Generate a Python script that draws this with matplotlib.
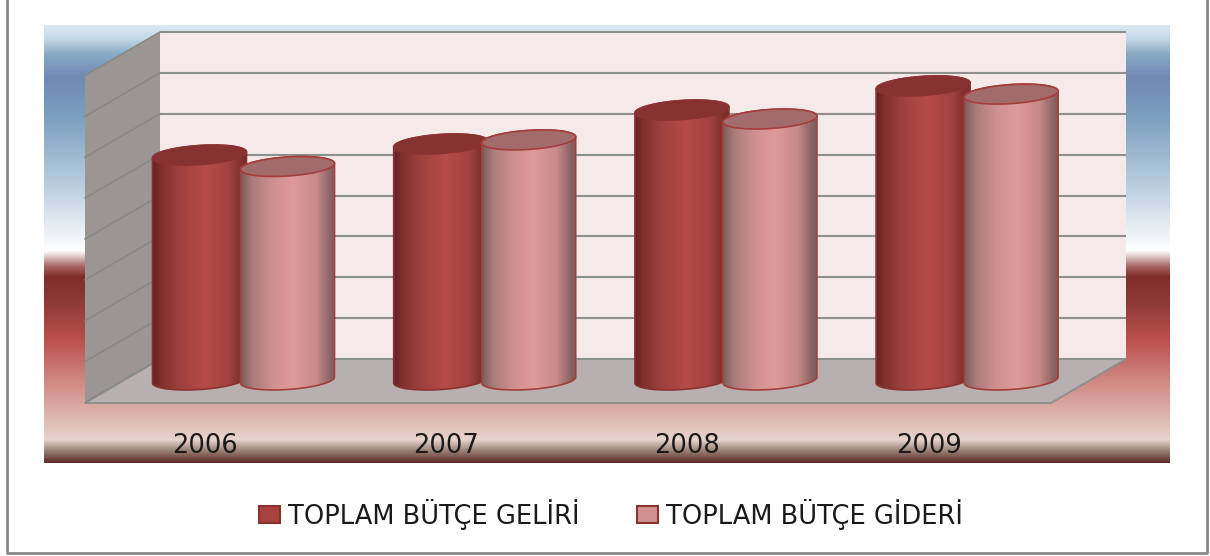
import numpy as np
import matplotlib
matplotlib.use('Agg')
import matplotlib.pyplot as plt
from matplotlib.colors import LinearSegmentedColormap, to_rgb
from matplotlib.patches import Patch, Polygon

plt.rcParams['font.family'] = ['DejaVu Sans']

# Values (the value axis has no labels, one grid step = 1)
years = ['2006', '2007', '2008', '2009']
gelir = [5.50, 5.77, 6.60, 7.19]
gider = [5.22, 5.87, 6.38, 6.99]
series_names = ['TOPLAM BÜTÇE GELİRİ', 'TOPLAM BÜTÇE GİDERİ']

W, H = 1210, 556
unit_x = 241.2   # pixels per category
unit_y = 40.9    # pixels per value step
first_x = 243.5  # pixel position of the first category
base_y = 380     # pixel position of value 0 on the cylinders


def ramp(stops):
    # stops are (position, colour), turned into a colormap
    return LinearSegmentedColormap.from_list('r', [(p, to_rgb(c)) for p, c in stops], N=512)


back_cmap = ramp([(0.0, '#dce9f3'), (0.03, '#c5d8e6'), (0.065, '#88aac5'), (0.12, '#7089b5'),
                  (0.21, '#7ba0bf'), (0.37, '#bccfdf'), (0.46, '#e6edf3'), (0.515, '#ffffff'),
                  (0.525, '#e8d8d8'), (0.55, '#a86a68'), (0.575, '#7f2c2a'), (0.635, '#8f3a36'),
                  (0.72, '#bb514d'), (0.825, '#d38f8a'), (0.925, '#e3c7bf'), (0.948, '#e6d4cd'),
                  (0.97, '#a08a80'), (1.0, '#5f2a25')])
red_cmap = ramp([(0.0, '#662321'), (0.08, '#7f2f2c'), (0.25, '#9b3f3b'), (0.55, '#b54c48'),
                 (0.8, '#a24240'), (0.94, '#7d2f2c'), (1.0, '#752b29')])
pink_cmap = ramp([(0.0, '#7c5a5a'), (0.12, '#ab7c7c'), (0.35, '#cf9291'), (0.55, '#df9a9b'),
                  (0.8, '#c68a89'), (0.94, '#8c6464'), (1.0, '#7c5a5a')])

fig = plt.figure(figsize=(W / 100, H / 100), dpi=100, facecolor='white')

# Backdrop axes: plain pixel coordinates for the frame, gradient and 3D walls
bg = fig.add_axes([0, 0, 1, 1])
bg.set_xlim(0, W)
bg.set_ylim(H, 0)
bg.axis('off')

bg.imshow(np.linspace(0, 1, 512).reshape(-1, 1), cmap=back_cmap, aspect='auto',
          extent=[44, 1170, 463, 25], zorder=0)
bg.set_xlim(0, W)
bg.set_ylim(H, 0)

bg.add_patch(Polygon([(160, 32), (1126, 32), (1126, 359), (160, 359)], fc='#f5e9e9', ec='none', zorder=1))
bg.add_patch(Polygon([(85, 75), (160, 32), (160, 359), (85, 403)], fc='#9b9593', ec='none', zorder=1))
bg.add_patch(Polygon([(85, 403), (160, 359), (1126, 359), (1051, 403)], fc='#b8b0b0', ec='#8e908c', lw=1.4, zorder=1))

for gy in np.linspace(32, 359, 9):
    bg.plot([160, 1126], [gy, gy], color='#8e908c', lw=1.5, zorder=2, solid_capstyle='butt')
    bg.plot([85, 160], [gy + 43.5, gy], color='#858a84', lw=1.1, zorder=2)

# Frame of the chart, open at the top of the crop
bg.plot([7, 7, 1207, 1207], [0, 552.5, 552.5, 0], color='#8a8a8a', lw=2, zorder=2)

# Data axes: x in categories, y in value steps
ax = fig.add_axes([0, 0, 1, 1], facecolor='none')
ax.axis('off')
xlim = (-first_x / unit_x, (W - first_x) / unit_x)
ylim = ((base_y - H) / unit_y, base_y / unit_y)

half_w = 47 / unit_x
half_h = 9.5 / unit_y
tilt = 3 / unit_y
offset = 44 / unit_x


def ring(cx, level, t):
    return np.column_stack([cx + half_w * np.cos(t), level + half_h * np.sin(t) + tilt * np.cos(t)])


def cylinder(cx, value, cmap, edge, top_colour, z):
    front = ring(cx, 0, np.linspace(np.pi, 2 * np.pi, 60))
    back = ring(cx, value, np.linspace(0, np.pi, 60))
    body = Polygon(np.vstack([front, back]), fc='none', ec=edge, lw=1.2, zorder=z + 0.2)
    ax.add_patch(body)
    im = ax.imshow(np.linspace(0, 1, 256).reshape(1, -1), cmap=cmap, aspect='auto', zorder=z,
                   extent=[cx - half_w, cx + half_w, -half_h - tilt, value + half_h + tilt])
    im.set_clip_path(body)
    ax.add_patch(Polygon(ring(cx, value, np.linspace(0, 2 * np.pi, 120)), fc=top_colour, ec=edge,
                         lw=1.2, zorder=z + 0.3))


for i in range(len(years)):
    cylinder(i - offset, gelir[i], red_cmap, '#8a3230', '#853230', 3 + i)
    cylinder(i + offset, gider[i], pink_cmap, '#a33e3c', '#a36c6c', 3.5 + i)
    ax.text(i - 38.5 / unit_x, (base_y - 446) / unit_y, years[i], ha='center', va='center',
            fontsize=18.5, color='#1a1a1a', zorder=10)

ax.set_xlim(*xlim)
ax.set_ylim(*ylim)

handles = [Patch(fc='#a8423f', ec='#8a3230', lw=1.5), Patch(fc='#cf9291', ec='#8a3230', lw=1.5)]
fig.legend(handles, series_names, ncol=2, loc='center', bbox_to_anchor=(611 / W, 1 - 514 / H),
           frameon=False, fontsize=18.5, handlelength=0.82, handleheight=0.6, handletextpad=0.31,
           columnspacing=2.2, labelcolor='#1a1a1a')

fig.savefig('out.png', dpi=100)
